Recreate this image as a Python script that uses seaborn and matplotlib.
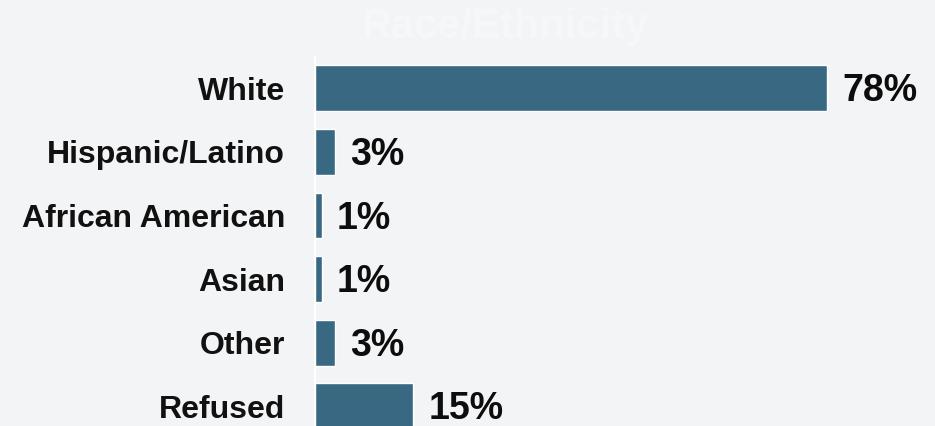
import matplotlib
matplotlib.use("Agg")
import matplotlib.pyplot as plt
import seaborn as sns
import pandas as pd

categories = ["White", "Hispanic/Latino", "African American", "Asian", "Other", "Refused"]
values = [78, 3, 1, 1, 3, 15]
value_labels = ["78%", "3%", "1%", "1%", "3%", "15%"]
title = "Race/Ethnicity"

bg = "#f3f4f6"
bar_color = "#386882"

sns.set_theme(style="white")
plt.rcParams["font.family"] = ["Liberation Sans", "DejaVu Sans"]

df = pd.DataFrame({"category": categories, "value": values})

fig = plt.figure(figsize=(9.35, 4.26), dpi=100, facecolor=bg)
ax = fig.add_axes([315 / 935, 0, 620 / 935, 1])
ax.set_facecolor(bg)

sns.barplot(data=df, x="value", y="category", orient="h", color=bar_color,
            width=0.72, saturation=1, ax=ax)

ax.set_xlim(0, 94.45)
ax.set_ylim(5.31, -1.39)
ax.set_xlabel("")
ax.set_ylabel("")
ax.set_xticks([])
ax.tick_params(axis="y", length=0, pad=21.5, labelsize=23)
for lbl in ax.get_yticklabels():
    lbl.set_fontweight("bold")
    lbl.set_color("#111111")

for s in ["top", "right", "bottom"]:
    ax.spines[s].set_visible(False)
ax.spines["left"].set_color("white")
ax.spines["left"].set_linewidth(1.5)
ax.spines["left"].set_bounds(-0.495, 5.31)

for i, (v, t) in enumerate(zip(values, value_labels)):
    ax.annotate(t, xy=(v, i), xytext=(15, -3), textcoords="offset pixels",
                ha="left", va="center", fontsize=27, fontweight="bold",
                color="#0d0d0d")

fig.text(505 / 935, 1 - 27 / 426, title, ha="center", va="center",
         fontsize=30, fontweight="bold", color="#f6f7f9")

fig.savefig("out.png", dpi=100, facecolor=bg)
